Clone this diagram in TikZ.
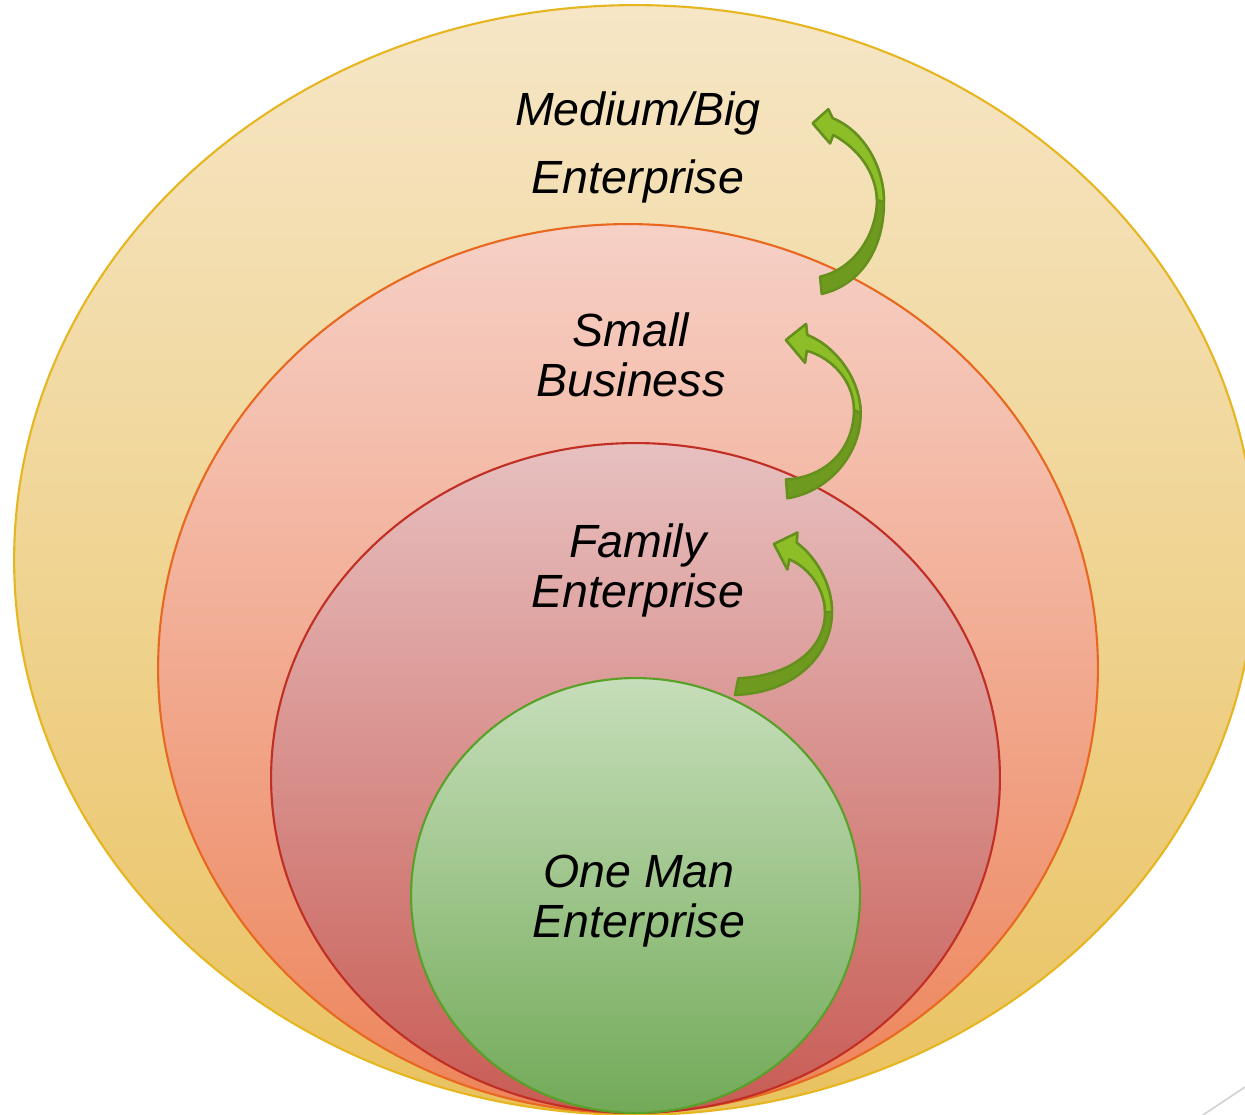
\documentclass[tikz,border=0pt]{standalone}
\usepackage{fontspec}
\setmainfont{Liberation Sans}
\definecolor{c1top}{RGB}{246,230,198}
\definecolor{c1bot}{RGB}{233,194,96}
\definecolor{c1line}{RGB}{230,182,32}
\definecolor{c2top}{RGB}{246,208,198}
\definecolor{c2bot}{RGB}{237,132,90}
\definecolor{c2line}{RGB}{232,104,32}
\definecolor{c3top}{RGB}{231,192,192}
\definecolor{c3bot}{RGB}{200,92,84}
\definecolor{c3line}{RGB}{192,46,36}
\definecolor{c4top}{RGB}{198,222,186}
\definecolor{c4bot}{RGB}{114,170,88}
\definecolor{c4line}{RGB}{88,160,40}
\definecolor{arlight}{RGB}{141,190,40}
\definecolor{ardark}{RGB}{111,154,32}
\definecolor{arline}{RGB}{102,144,30}
\begin{document}
\begin{tikzpicture}[x=0.02cm,y=-0.02cm,
  lbl/.style={font=\itshape\fontsize{26.5}{28.35}\selectfont, align=center, inner sep=0pt, anchor=base},
  ring/.style={line width=1.2pt},
  arrowdark/.style={fill=ardark, draw=arline, line width=1.4pt, line join=round},
  arrowlight/.style={fill=arlight, draw=arline, line width=1.4pt, line join=round}]
\useasboundingbox (0,0) rectangle (1245,1115);
\begin{scope}
\clip (0,0) rectangle (1245,1115);
% rings
\path[ring, draw=c1line, top color=c1top, bottom color=c1bot] (635,560) ellipse [x radius=12.42cm, y radius=11.1cm];
\path[ring, draw=c2line, top color=c2top, bottom color=c2bot] (628,668.5) ellipse [x radius=9.4cm, y radius=8.89cm];
\path[ring, draw=c3line, top color=c3top, bottom color=c3bot] (635.5,778) ellipse [x radius=7.29cm, y radius=6.7cm];
\path[ring, draw=c4line, top color=c4top, bottom color=c4bot] (635.5,895.5) ellipse [x radius=4.49cm, y radius=4.35cm];
% arrow 1
\path[arrowdark] (812.7,123.3) -- (828.3,109.3) -- (832.7,118.3)
  .. controls (862,130) and (884,165) .. (884,202)
  .. controls (884,250) and (860,285) .. (821.7,294) -- (820,276.7)
  .. controls (850,270) and (876,240) .. (877,200)
  .. controls (876,172) and (858,148) .. (833.3,135) -- (830,143.3) -- cycle;
\path[arrowlight] (812.7,123.3) -- (828.3,109.3) -- (832.7,118.3)
  .. controls (862,130) and (884,165) .. (884,202) -- (877,200)
  .. controls (876,172) and (858,148) .. (833.3,135) -- (830,143.3) -- cycle;
% arrow 2
\path[arrowdark] (786,340) -- (806,324) -- (807.3,335)
  .. controls (835,346) and (860,378) .. (860.7,413)
  .. controls (861,455) and (828,492) .. (787.3,498.3) -- (786,479.3)
  .. controls (820,478) and (853,455) .. (854,410)
  .. controls (854,382) and (833,358) .. (806.7,350.7) -- (805,362.7) -- cycle;
\path[arrowlight] (786,340) -- (806,324) -- (807.3,335)
  .. controls (835,346) and (860,378) .. (860.7,413) -- (854,410)
  .. controls (854,382) and (833,358) .. (806.7,350.7) -- (805,362.7) -- cycle;
% arrow 3
\path[arrowdark] (774,544) -- (797.3,532.7) -- (796.7,542.7)
  .. controls (817,558) and (832,585) .. (832,612)
  .. controls (832,655) and (795,693) .. (735,695) -- (738.3,678.3)
  .. controls (790,676) and (825,650) .. (825,612)
  .. controls (825,590) and (810,568) .. (789.3,559.3) -- (787.3,569.3) -- cycle;
\path[arrowlight] (774,544) -- (797.3,532.7) -- (796.7,542.7)
  .. controls (817,558) and (832,585) .. (832,612) -- (825,612)
  .. controls (825,590) and (810,568) .. (789.3,559.3) -- (787.3,569.3) -- cycle;
% slide corner line
\draw[black!18, line width=0.9pt] (1203,1115) -- (1245,1087);
\end{scope}
% labels (base anchor = baseline of the last line)
\node[lbl] (big) at (638,193.3) {Medium/Big\\[10.2pt]Enterprise};
\node[lbl] (small) at (631,396.7) {Small\\Business};
\node[lbl] (family) at (638,607) {Family\\Enterprise};
\node[lbl] (oneman) at (639,937) {One Man\\Enterprise};
\end{tikzpicture}
\end{document}
